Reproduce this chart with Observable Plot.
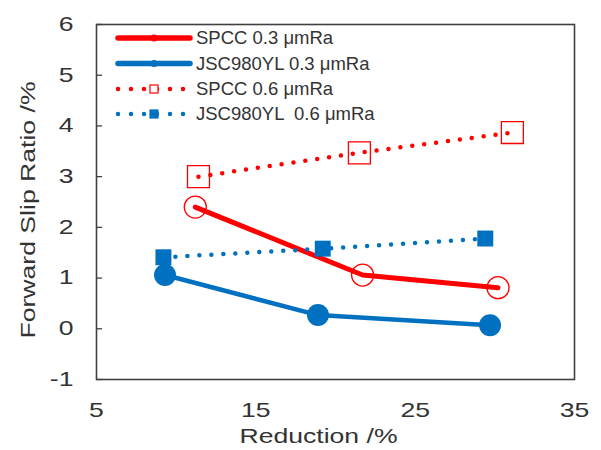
<!DOCTYPE html>
<html>
<head>
<meta charset="utf-8">
<script src="https://cdn.jsdelivr.net/npm/d3@7"></script>
<script src="https://cdn.jsdelivr.net/npm/@observablehq/plot@0.6"></script>
<style>
  html, body { margin: 0; padding: 0; background: #fff; }
  #chart { position: relative; width: 601px; height: 450px; font-family: "Liberation Sans", Arial, sans-serif; }
  #chart svg { position: absolute; left: 0; top: 0; }
</style>
</head>
<body>
<div id="chart"></div>
<script>
// ---- data ----
const seriesNames = ["SPCC 0.3 μmRa", "JSC980YL 0.3 μmRa", "SPCC 0.6 μmRa", "JSC980YL  0.6 μmRa"];
const reductionSPCC03 = [11.2, 21.7, 30.2];
const slipSPCC03      = [2.40, 1.06, 0.81];
const reductionJSC03  = [9.3, 18.9, 29.7];
const slipJSC03       = [1.06, 0.27, 0.07];
const reductionSPCC06 = [11.4, 21.5, 31.1];
const slipSPCC06      = [3.00, 3.47, 3.87];
const reductionJSC06  = [9.2, 19.2, 29.4];
const slipJSC06       = [1.41, 1.58, 1.78];
const xTicks = [5, 15, 25, 35];
const yTicks = [-1, 0, 1, 2, 3, 4, 5, 6];

// ---- styles ----
const RED = "#FF0000", BLUE = "#0070C0";
const styles = [
  {color: RED,  width: 5,   dash: null,   symbol: "circle", r: 11,   fill: "none"},
  {color: BLUE, width: 4.5, dash: null,   symbol: "circle", r: 11,   fill: BLUE},
  {color: RED,  width: 4.5, dash: "0 12", symbol: "square", r: 12.4, fill: "none"},
  {color: BLUE, width: 4.5, dash: "0 12", symbol: "square", r: 9,    fill: BLUE}
];

const xs = [reductionSPCC03, reductionJSC03, reductionSPCC06, reductionJSC06];
const ys = [slipSPCC03, slipJSC03, slipSPCC06, slipJSC06];
const tables = seriesNames.map((name, i) => xs[i].map((x, j) => ({series: name, x, y: ys[i][j]})));

const lineMarks = tables.map((t, i) => Plot.line(t, {
  x: "x", y: "y", stroke: styles[i].color, strokeWidth: styles[i].width,
  strokeDasharray: styles[i].dash, strokeLinecap: "round", strokeLinejoin: "round"
}));
const dotMarks = tables.map((t, i) => Plot.dot(t, {
  x: "x", y: "y", symbol: styles[i].symbol, r: styles[i].r,
  fill: styles[i].fill, stroke: styles[i].color, strokeWidth: styles[i].fill === "none" ? 1.3 : 0
}));

const TXT = "#333333";
const fmt = d => `${d}`;
const plot = Plot.plot({
  width: 601, height: 450,
  marginLeft: 96, marginRight: 27, marginTop: 24, marginBottom: 71,
  style: {fontFamily: "'Liberation Sans', Arial, sans-serif", color: TXT, background: "#fff"},
  x: {domain: [5, 35], label: null},
  y: {domain: [-1, 6], label: null},
  marks: [
    Plot.axisX({ticks: xTicks, tickSize: 0, tickPadding: 23, fontSize: 20, label: null, tickFormat: fmt}),
    Plot.axisY({ticks: yTicks, tickSize: 0, tickPadding: 23, fontSize: 20, label: null, tickFormat: fmt}),
    Plot.axisY({ticks: yTicks, tickSize: -6, tickFormat: () => "", label: null, stroke: "#404040", strokeWidth: 1.3}),
    Plot.frame({stroke: "#404040", strokeWidth: 1.6}),
    ...lineMarks,
    ...dotMarks,
    Plot.text(["Forward Slip Ratio /%"], {frameAnchor: "left", textAnchor: "middle", lineAnchor: "middle",
      rotate: -90, dx: -68, dy: 8, fontSize: 20, fill: TXT}),
    Plot.text(["Reduction /%"], {frameAnchor: "bottom", textAnchor: "middle", lineAnchor: "middle",
      dy: 57, dx: -17, fontSize: 20, fill: TXT})
  ]
});

// stretch axis text horizontally (along its direction) to mimic the wide source font
d3.select(plot).selectAll("text").each(function () {
  const t = this;
  const tr = t.getAttribute("transform") || "";
  const xa = t.getAttribute("x");
  let xn = 0;
  if (xa !== null && /^\s*-?[\d.]+(e-?\d+)?\s*$/.test(xa)) { xn = +xa; t.removeAttribute("x"); }
  t.setAttribute("transform", `${tr} translate(${xn},0) scale(1.33,1)`);
});

const chart = document.getElementById("chart");
chart.appendChild(plot);

// ---- legend overlay ----
const lg = d3.select(chart).append("svg").attr("width", 601).attr("height", 450)
  .style("pointer-events", "none");
const rowY = [38, 63.5, 89, 114];
seriesNames.forEach((name, i) => {
  const s = styles[i];
  const g = lg.append("g").attr("transform", `translate(0,${rowY[i]})`);
  g.append("line").attr("x1", 118).attr("x2", 190).attr("y1", 0).attr("y2", 0)
    .attr("stroke", s.color).attr("stroke-width", s.dash ? 4.5 : 5.5)
    .attr("stroke-dasharray", s.dash ? "0 13" : null).attr("stroke-linecap", "round");
  if (s.symbol === "circle") {
    g.append("circle").attr("cx", 154).attr("cy", 0).attr("r", 3.5).attr("fill", s.color);
  } else {
    g.append("rect").attr("x", 150).attr("y", -4).attr("width", 8).attr("height", 8)
      .attr("fill", s.fill === "none" ? "#fff" : s.fill).attr("stroke", s.color).attr("stroke-width", 1.2);
  }
  g.append("text").attr("x", 196).attr("y", 6).attr("font-size", 18.5)
    .attr("font-family", "'Liberation Sans', Arial, sans-serif").attr("fill", TXT)
    .style("white-space", "pre").text(name);
});
</script>
</body>
</html>
